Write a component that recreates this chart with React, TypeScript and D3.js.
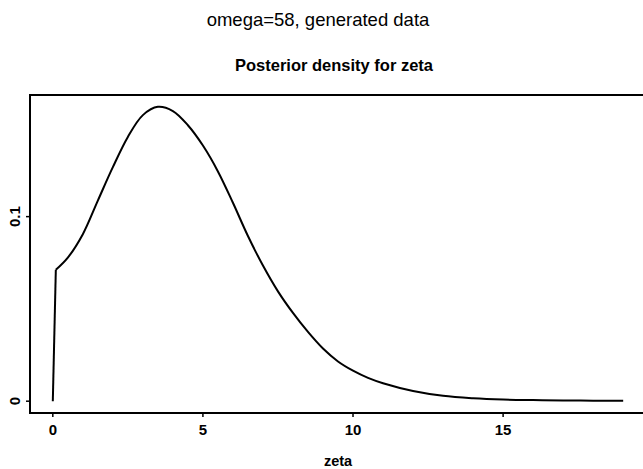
import { curveCatmullRom, line, scaleLinear } from "d3";

const WIDTH = 643;
const HEIGHT = 469;
const FRAME = { left: 30, top: 95, right: 646, bottom: 413 };

const mainTitle = "omega=58, generated data";
const subTitle = "Posterior density for zeta";
const xLabel = "zeta";

const zeta = [
  0, 0.1, 0.5, 1, 1.5, 2, 2.5, 3, 3.5, 4, 4.5, 5, 5.5, 6, 6.5, 7, 7.5, 8, 8.5,
  9, 9.5, 10, 10.5, 11, 12, 13, 14, 15, 16, 17, 18, 19,
];
const density = [
  0, 0.0712, 0.0778, 0.0905, 0.1087, 0.1268, 0.1432, 0.155, 0.1595, 0.1572,
  0.1495, 0.1385, 0.1245, 0.1075, 0.0895, 0.0735, 0.0595, 0.0478, 0.0375, 0.0285,
  0.0215, 0.0165, 0.0126, 0.0097, 0.0055, 0.0029, 0.0016, 0.0009, 0.0006,
  0.0004, 0.0003, 0.0003,
];

const xTicks = [0, 5, 10, 15];
const yTicks = [0, 0.1];
const yTickLabels = ["0", "0.1"];

const FONT = "'Liberation Sans', Arial, Helvetica, sans-serif";

export default function App() {
  // R-style axes: data range padded by 4% each side
  const xScale = scaleLinear().domain([-0.76, 19.76]).range([FRAME.left, FRAME.right]);
  const yScale = scaleLinear().domain([-0.0064, 0.1659]).range([FRAME.bottom, FRAME.top]);

  const points = zeta.map((z, i) => ({ z, d: density[i] }));

  // the jump at zeta=0 is a straight segment, the rest is smooth
  const jumpPath = line<{ z: number; d: number }>()
    .x((p) => xScale(p.z))
    .y((p) => yScale(p.d))(points.slice(0, 2));

  const curvePath = line<{ z: number; d: number }>()
    .x((p) => xScale(p.z))
    .y((p) => yScale(p.d))
    .curve(curveCatmullRom.alpha(0.5))(points.slice(1));

  const cx = (FRAME.left + FRAME.right) / 2;

  return (
    <svg
      width={WIDTH}
      height={HEIGHT}
      viewBox={`0 0 ${WIDTH} ${HEIGHT}`}
      style={{ position: "absolute", left: 0, top: 0, background: "#fff" }}
      fontFamily={FONT}
    >
      <rect x={0} y={0} width={WIDTH} height={HEIGHT} fill="#fff" />
      <text x={318} y={26} textAnchor="middle" fontSize={18.5} fill="#000">
        {mainTitle}
      </text>
      <text x={334} y={71} textAnchor="middle" fontSize={16.5} fontWeight="bold" fill="#000">
        {subTitle}
      </text>

      <rect
        x={FRAME.left}
        y={FRAME.top}
        width={FRAME.right - FRAME.left}
        height={FRAME.bottom - FRAME.top}
        fill="none"
        stroke="#000"
        strokeWidth={2}
      />

      {xTicks.map((t) => (
        <g key={`x${t}`}>
          <line
            x1={xScale(t)}
            x2={xScale(t)}
            y1={FRAME.bottom}
            y2={FRAME.bottom + 4}
            stroke="#000"
            strokeWidth={1.5}
          />
          <text
            x={xScale(t)}
            y={435}
            textAnchor="middle"
            fontSize={15}
            fontWeight="bold"
            fill="#000"
          >
            {t}
          </text>
        </g>
      ))}

      {yTicks.map((t, i) => (
        <g key={`y${t}`}>
          <line
            x1={FRAME.left - 4}
            x2={FRAME.left}
            y1={yScale(t)}
            y2={yScale(t)}
            stroke="#000"
            strokeWidth={1.5}
          />
          <text
            transform={`translate(20, ${yScale(t)}) rotate(-90)`}
            textAnchor="middle"
            fontSize={15}
            fontWeight="bold"
            fill="#000"
          >
            {yTickLabels[i]}
          </text>
        </g>
      ))}

      <text x={cx} y={466} textAnchor="middle" fontSize={14.5} fontWeight="bold" fill="#000">
        {xLabel}
      </text>

      <path d={jumpPath ?? ""} fill="none" stroke="#000" strokeWidth={2} />
      <path d={curvePath ?? ""} fill="none" stroke="#000" strokeWidth={2} />
    </svg>
  );
}
